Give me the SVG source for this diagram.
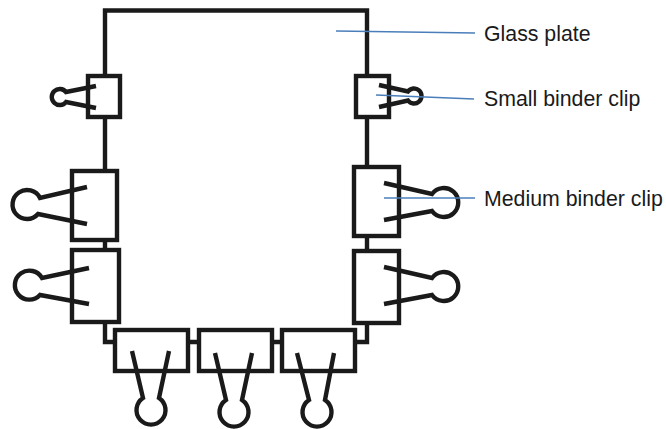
<svg xmlns="http://www.w3.org/2000/svg" width="666" height="429" viewBox="0 0 666 429">
<style>
.k{fill:none;stroke:#1a1a1a;stroke-width:4.400}
.l{fill:none;stroke:#4a7ebb;stroke-width:1.600}
text{font-family:"Liberation Sans",Arial,sans-serif;font-size:21.300px;fill:#1a1a1a}
</style>
<rect width="666" height="429" fill="#fff"/>
<g id="connectors">
<path class="k" d="M105 75V10.500H367V75M105 117V171M105 240V249M105 322V342H115M367 117V167M367 236V251M367 323V342H355M188 342H199M272 342H282"/>
</g>
<g id="glass-plate"><text x="484" y="41">Glass plate</text><path class="l" d="M336 31L475 33"/></g>
<g id="clip-l1"><rect class="k" x="88" y="76" width="32" height="41"/><path class="k" d="M96 86L66 92A8 8 0 1 0 66 102L96 108"/></g>
<g id="clip-l2"><rect class="k" x="72" y="171" width="45" height="69"/><path class="k" d="M87 187L40 198A14.500 14.500 0 1 0 38 214L87 224"/></g>
<g id="clip-l3"><rect class="k" x="72" y="250" width="47" height="72"/><path class="k" d="M89 268L42 278A14.500 14.500 0 1 0 40 295L89 304"/></g>
<g id="clip-r1"><rect class="k" x="356" y="76" width="33" height="41"/><path class="k" d="M379 85L408 91.500A7.500 7.500 0 1 1 408 100.500L379 107"/></g>
<g id="clip-r2"><rect class="k" x="354" y="167" width="45" height="69"/><path class="k" d="M384 183L432 194A14.500 14.500 0 1 1 432 211L384 220"/></g>
<g id="clip-r3"><rect class="k" x="354" y="251" width="45" height="72"/><path class="k" d="M384 267L432 278A14.500 14.500 0 1 1 432 295L384 304"/></g>
<g id="clip-b1"><rect class="k" x="115" y="330" width="73" height="41"/><path class="k" d="M132 351L143 398A14.500 14.500 0 1 0 159 398L169 351"/></g>
<g id="clip-b2"><rect class="k" x="199" y="330" width="73" height="41"/><path class="k" d="M215 353L226 400A14.500 14.500 0 1 0 242 400L252 353"/></g>
<g id="clip-b3"><rect class="k" x="282" y="330" width="73" height="41"/><path class="k" d="M297 353L309 400A14.500 14.500 0 1 0 325 400L334 353"/></g>
<g id="label-small"><text x="484" y="106">Small binder clip</text><path class="l" d="M376 95L474 99"/></g>
<g id="label-medium"><text x="484" y="206">Medium binder clip</text><path class="l" d="M384 198L475 198"/></g>
</svg>
